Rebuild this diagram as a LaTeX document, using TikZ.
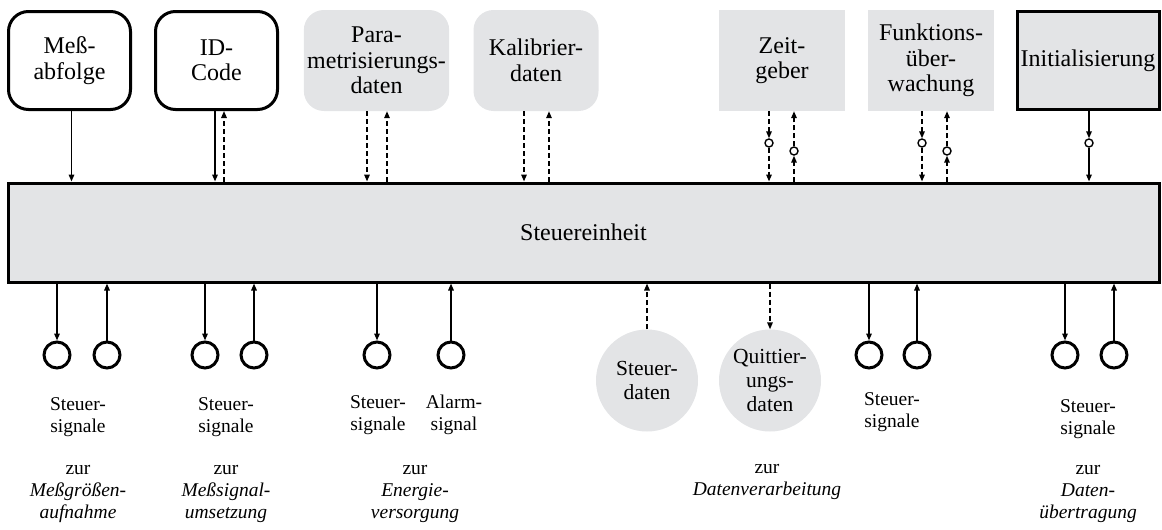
\documentclass[tikz,border=0pt]{standalone}
\usepackage{fontspec}
\setmainfont{Liberation Serif}
\usetikzlibrary{arrows.meta}
\definecolor{hell}{RGB}{227,228,230}
\tikzset{
  pfeil/.style={-{Triangle[length=7pt,width=5.5pt]},line width=1.5pt},
  strich/.style={dash pattern=on 5pt off 3pt},
  rbox/.style={draw,line width=3pt,rounded corners=20pt,minimum width=122pt,minimum height=98pt,align=center,font=\fontsize{24}{25.5}\selectfont},
  gbox/.style={fill=hell,rounded corners=20pt,minimum width=125pt,minimum height=101pt,align=center,font=\fontsize{24}{25.5}\selectfont},
  sbox/.style={fill=hell,minimum width=126pt,minimum height=101pt,align=center,font=\fontsize{24}{25.5}\selectfont},
  ring/.style={circle,draw,line width=1.4pt,fill=white,minimum size=8pt,inner sep=0pt},
  kreis/.style={circle,draw,line width=3pt,minimum size=26pt,inner sep=0pt},
  dkreis/.style={circle,fill=hell,minimum size=102pt,inner sep=0pt,align=center,font=\fontsize{21.5}{24}\selectfont},
  lab/.style={align=center,font=\fontsize{19.5}{22}\selectfont}
}
\begin{document}
\begin{tikzpicture}[x=1pt,y=-1pt]
\useasboundingbox (0,0) rectangle (1162,530);
% Bausteine oben
\node[rbox] (mess) at (69.5,60.5) {Meß-\\abfolge};
\node[rbox] (id) at (216.5,60.5) {ID-\\Code};
\node[gbox] (para) at (376.5,60.5) {Para-\\metrisierungs-\\daten};
\node[gbox] (kal) at (536,60.5) {Kalibrier-\\daten};
\node[sbox] (zeit) at (782,60.5) {Zeit-\\geber};
\node[sbox] (fkt) at (931,60.5) {Funktions-\\über-\\wachung};
\node[draw,line width=3pt,fill=hell,minimum width=142pt,minimum height=98pt,font=\fontsize{24}{25.5}\selectfont] (init) at (1088,60.5) {Initialisierung};
% Steuereinheit
\node[draw,line width=3pt,fill=hell,minimum width=1151pt,minimum height=99pt,font=\fontsize{24}{25.5}\selectfont] (se) at (583.5,232.5) {Steuereinheit};
% Verbindungen oben
\draw[pfeil] ([xshift=2pt]mess.south) -- ([xshift=2pt]mess.south |- se.north);
\draw[pfeil] ([xshift=-1.5pt]id.south) -- ([xshift=-1.5pt]id.south |- se.north);
\draw[pfeil,strich] ([xshift=7.5pt]id.south |- se.north) -- ([xshift=7.5pt]id.south);
\draw[pfeil,strich] ([xshift=-9.5pt]para.south) -- ([xshift=-9.5pt]para.south |- se.north);
\draw[pfeil,strich] ([xshift=10.5pt]para.south |- se.north) -- ([xshift=10.5pt]para.south);
\draw[pfeil,strich] ([xshift=-12pt]kal.south) -- ([xshift=-12pt]kal.south |- se.north);
\draw[pfeil,strich] ([xshift=13pt]kal.south |- se.north) -- ([xshift=13pt]kal.south);
% mit Ringen
\node[ring] (z1) at (769,143) {};
\node[ring] (z2) at (794,151) {};
\draw[pfeil,strich] (zeit.south -| z1) -- (z1);
\draw[pfeil,strich] (z1) -- (z1 |- se.north);
\draw[pfeil,strich] (se.north -| z2) -- (z2);
\draw[pfeil,strich] (z2) -- (z2 |- zeit.south);
\node[ring] (f1) at (922,143) {};
\node[ring] (f2) at (947,151) {};
\draw[pfeil,strich] (fkt.south -| f1) -- (f1);
\draw[pfeil,strich] (f1) -- (f1 |- se.north);
\draw[pfeil,strich] (se.north -| f2) -- (f2);
\draw[pfeil,strich] (f2) -- (f2 |- fkt.south);
\node[ring] (i1) at (1089,143) {};
\draw[pfeil] (init.south -| i1) -- (i1);
\draw[pfeil] (i1) -- (i1 |- se.north);
% Anschluesse unten
\node[kreis] (k1) at (57,355) {};
\node[kreis] (k2) at (107,355) {};
\node[kreis] (k3) at (205,355) {};
\node[kreis] (k4) at (254,355) {};
\node[kreis] (k5) at (377,355) {};
\node[kreis] (k6) at (451,355) {};
\node[kreis] (k7) at (869,355) {};
\node[kreis] (k8) at (917,355) {};
\node[kreis] (k9) at (1065,355) {};
\node[kreis] (k10) at (1114,355) {};
\foreach \k in {k1,k3,k5,k7,k9}
  \draw[pfeil] (se.south -| \k) -- (\k.north);
\foreach \k in {k2,k4,k6,k8,k10}
  \draw[pfeil] (\k.north) -- (se.south -| \k);
\node[dkreis] (sd) at (647,380.5) {Steuer-\\daten};
\node[dkreis] (qd) at (770,380.5) {Quittier-\\ungs-\\daten};
\draw[pfeil,strich] (sd.north) -- (se.south -| sd);
\draw[pfeil,strich] (se.south -| qd) -- (qd.north);
% Beschriftung
\node[lab] (s1) at (78,417) {Steuer-\\signale};
\node[lab] (s2) at (226,417) {Steuer-\\signale};
\node[lab] (s3) at (378,415) {Steuer-\\signale};
\node[lab] (s4) at (454,415) {Alarm-\\signal};
\node[lab] (s5) at (892,412) {Steuer-\\signale};
\node[lab] (s6) at (1088,419) {Steuer-\\signale};
\node[lab] (a1) at (78,494) {zur\\\textit{Meßgrößen-}\\\textit{aufnahme}};
\node[lab] (a2) at (226,494) {zur\\\textit{Meßsignal-}\\\textit{umsetzung}};
\node[lab] (a3) at (415,494) {zur\\\textit{Energie-}\\\textit{versorgung}};
\node[lab] (a4) at (767,482) {zur\\\textit{Datenverarbeitung}};
\node[lab] (a5) at (1088,494) {zur\\\textit{Daten-}\\\textit{übertragung}};
\end{tikzpicture}
\end{document}
